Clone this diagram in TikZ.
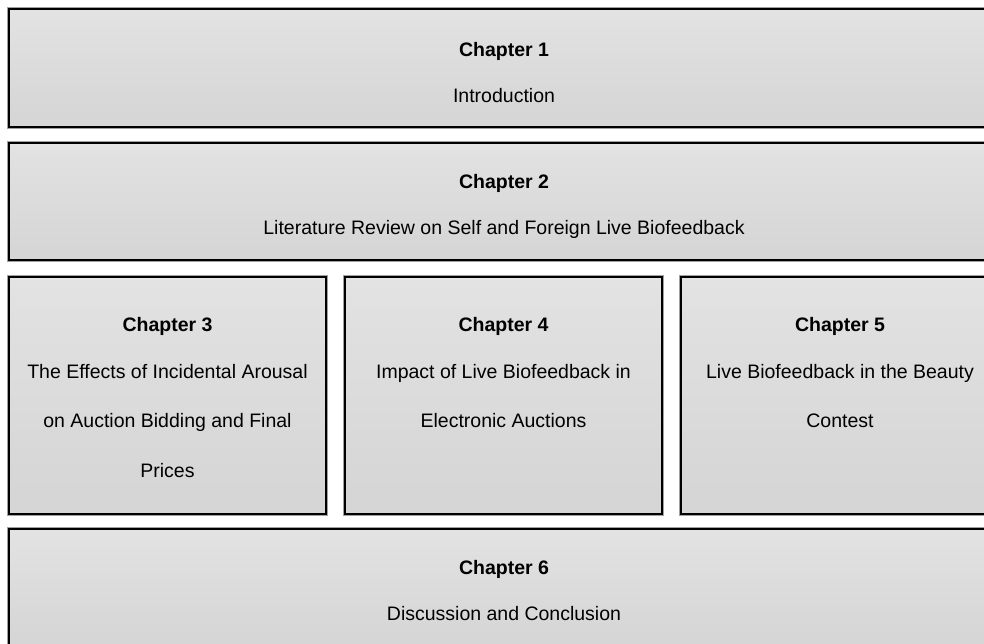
\documentclass[tikz,border=0pt]{standalone}
\usepackage{fontspec}
\setmainfont{Liberation Sans}
\definecolor{shadeTop}{HTML}{F1F1F1}
\definecolor{shadeMid}{HTML}{E1E1E1}
\definecolor{shadeLow}{HTML}{D6D6D6}
\definecolor{shadeBot}{HTML}{DEDEDE}
\definecolor{rimgray}{HTML}{A0A0A0}
\pgfdeclareverticalshading{chapshade}{100bp}{%
  color(0bp)=(shadeBot); color(4bp)=(shadeLow); color(30bp)=(shadeLow);
  color(70bp)=(shadeMid); color(100bp)=(shadeTop)}
\tikzset{
  chapbox/.style={shading=chapshade, draw=black, line width=2.2pt,
    preaction={draw=rimgray, line width=3.6pt}},
  head/.style={anchor=base, inner sep=0pt, font=\fontsize{19.5}{20}\selectfont\bfseries},
  body/.style={anchor=base, inner sep=0pt, font=\fontsize{19.5}{20}\selectfont},
}
\begin{document}
\begin{tikzpicture}[x=1pt,y=-1pt]
\useasboundingbox (0,0) rectangle (984,643);
\clip (0,0) rectangle (984,643);

% boxes
\path[chapbox] (9,9) rectangle (999,127);
\path[chapbox] (9,143) rectangle (999,260);
\path[chapbox] (9,277) rectangle (326,514);
\path[chapbox] (345,277) rectangle (662,514);
\path[chapbox] (681,277) rectangle (999,514);
\path[chapbox] (9,529) rectangle (999,647);

% Chapter 1
\node[head] (c1h) at (504,56) {Chapter 1};
\node[body] (c1t) at (504,102) {Introduction};
% Chapter 2
\node[head] (c2h) at (504,188) {Chapter 2};
\node[body] (c2t) at (504,234) {Literature Review on Self and Foreign Live Biofeedback};
% Chapter 3
\node[head] (c3h) at (167.5,331) {Chapter 3};
\node[body] (c3a) at (167.5,378) {The Effects of Incidental Arousal};
\node[body] (c3b) at (167.5,427) {on Auction Bidding and Final};
\node[body] (c3c) at (167.5,477) {Prices};
% Chapter 4
\node[head] (c4h) at (503.5,331) {Chapter 4};
\node[body] (c4a) at (503.5,378) {Impact of Live Biofeedback in};
\node[body] (c4b) at (503.5,427) {Electronic Auctions};
% Chapter 5
\node[head] (c5h) at (840,331) {Chapter 5};
\node[body] (c5a) at (840,378) {Live Biofeedback in the Beauty};
\node[body] (c5b) at (840,427) {Contest};
% Chapter 6
\node[head] (c6h) at (504,574) {Chapter 6};
\node[body] (c6t) at (504,620) {Discussion and Conclusion};
\end{tikzpicture}
\end{document}
